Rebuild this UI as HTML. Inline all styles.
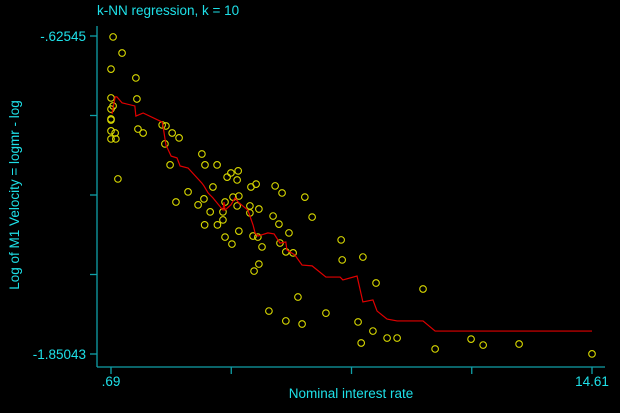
<!DOCTYPE html>
<html><head><meta charset="utf-8"><style>
html,body{margin:0;padding:0;background:#000;}
svg{display:block;font-family:"Liberation Sans",sans-serif;}
</style></head><body>
<svg id="chart" width="620" height="413" xmlns="http://www.w3.org/2000/svg">
<rect width="620" height="413" fill="#000"/>
<text x="97" y="15" fill="#1ee0e8" font-size="13.5">k-NN regression, k = 10</text>
<g id="axes"></g>
<g id="marks"></g>
<text x="351" y="398" fill="#1ee0e8" font-size="13.5" text-anchor="middle">Nominal interest rate</text>
<text transform="translate(19,195) rotate(-90)" fill="#1ee0e8" font-size="13.5" text-anchor="middle">Log of M1 Velocity = logmr - log</text>
</svg>
<script>
const ptX=[0.75,1.01,0.69,1.41,0.69,1.44,0.75,0.69,0.69,0.69,0.69,0.81,0.69,0.83,1.47,1.62,2.17,2.28,2.46,2.66,2.25,2.40,0.89,3.32,3.41,3.76,4.05,4.16,4.37,4.34,2.92,2.57,3.21,3.38,3.56,3.64,3.93,3.99,4.22,4.39,4.34,4.71,4.71,4.97,4.74,4.89,5.44,5.64,6.30,6.51,5.38,5.55,4.39,3.99,4.19,4.80,4.94,5.06,5.84,5.58,5.75,5.96,4.97,4.83,7.35,7.38,7.98,8.36,9.72,6.10,5.26,5.75,6.22,6.91,7.84,8.27,7.93,8.68,8.97,10.07,11.11,11.46,12.50,14.61,3.77,3.40,3.93];
const ptY=[-0.629,-0.691,-0.753,-0.787,-0.864,-0.868,-0.895,-0.907,-0.945,-0.949,-0.991,-0.999,-1.022,-1.022,-0.984,-0.999,-0.968,-0.972,-0.999,-1.018,-1.041,-1.122,-1.176,-1.080,-1.122,-1.122,-1.169,-1.153,-1.145,-1.180,-1.226,-1.265,-1.276,-1.253,-1.303,-1.207,-1.303,-1.265,-1.246,-1.242,-1.280,-1.280,-1.307,-1.292,-1.207,-1.196,-1.203,-1.230,-1.246,-1.323,-1.319,-1.350,-1.377,-1.400,-1.427,-1.396,-1.400,-1.438,-1.384,-1.423,-1.457,-1.461,-1.504,-1.531,-1.411,-1.488,-1.477,-1.577,-1.600,-1.631,-1.685,-1.723,-1.735,-1.693,-1.727,-1.762,-1.808,-1.789,-1.789,-1.831,-1.793,-1.816,-1.812,-1.850,-1.353,-1.353,-1.334];
const lineX=[0.72,0.81,0.86,1.01,1.38,1.41,1.62,2.17,2.19,2.28,2.43,2.60,2.69,2.92,3.32,3.38,3.50,3.64,3.93,3.96,3.99,4.16,4.28,4.37,4.65,4.80,4.86,4.94,5.23,5.41,5.58,5.75,5.78,6.01,6.22,6.51,6.91,7.32,7.40,7.81,7.98,8.27,8.39,8.68,8.97,9.72,10.07,14.61];
const lineY=[-0.926,-0.860,-0.860,-0.883,-0.895,-0.934,-0.922,-0.957,-0.968,-1.045,-1.088,-1.095,-1.126,-1.134,-1.192,-1.203,-1.230,-1.249,-1.296,-1.265,-1.296,-1.276,-1.249,-1.265,-1.296,-1.353,-1.384,-1.396,-1.384,-1.388,-1.423,-1.419,-1.450,-1.469,-1.508,-1.511,-1.554,-1.554,-1.565,-1.550,-1.650,-1.642,-1.685,-1.716,-1.723,-1.723,-1.762,-1.762];
const xTicks=[0.69,4.17,7.65,11.13,14.61];
const xTickLabels=[".69","","","","14.61"];
const yTicks=[-0.62545,-0.93170,-1.23794,-1.54419,-1.85043];
const yTickLabels=["-.62545","","","","-1.85043"];

const NS="http://www.w3.org/2000/svg";
const X0=0.69,X1=14.61,PX0=111,PX1=592;
const Y0=-0.62545,Y1=-1.85043,PY0=36,PY1=354;
function sx(v){return PX0+(v-X0)/(X1-X0)*(PX1-PX0);}
function sy(v){return PY0+(v-Y0)/(Y1-Y0)*(PY1-PY0);}
function mk(tag,attrs,parent){const e=document.createElementNS(NS,tag);for(const k in attrs)e.setAttribute(k,attrs[k]);parent.appendChild(e);return e;}
const axes=document.getElementById('axes'),marks=document.getElementById('marks');
const AX="#10a0a8",TX="#1ee0e8";
let a=mk('line',{x1:97,y1:26,x2:97,y2:367,stroke:AX,'stroke-width':1.3},axes);


a=mk('line',{x1:97,y1:367,x2:605,y2:367,stroke:AX,'stroke-width':1.3},axes);


yTicks.forEach((v,i)=>{
  const t=mk('line',{x1:90,y1:sy(v),x2:97,y2:sy(v),stroke:AX,'stroke-width':1.3},axes);
  
  
  if(yTickLabels[i]){
    const l=mk('text',{x:86,y:sy(v)+5,fill:TX,'font-size':13.5,'text-anchor':'end'},axes);
    l.textContent=yTickLabels[i];
    
    
  }
});
xTicks.forEach((v,i)=>{
  const t=mk('line',{x1:sx(v),y1:367,x2:sx(v),y2:374,stroke:AX,'stroke-width':1.3},axes);
  
  
  if(xTickLabels[i]){
    const l=mk('text',{x:sx(v),y:386,fill:TX,'font-size':13.5,'text-anchor':'middle'},axes);
    l.textContent=xTickLabels[i];
    
    
  }
});
ptX.forEach((v,i)=>{
  const c=mk('circle',{cx:sx(v),cy:sy(ptY[i]),r:3.3,fill:'none',stroke:'#d8d800','stroke-width':1.1},marks);
  
  
});
const pl=mk('polyline',{points:lineX.map((v,i)=>sx(v)+','+sy(lineY[i])).join(' '),fill:'none',stroke:'#e00000','stroke-width':1.2},marks);


</script>
</body></html>
